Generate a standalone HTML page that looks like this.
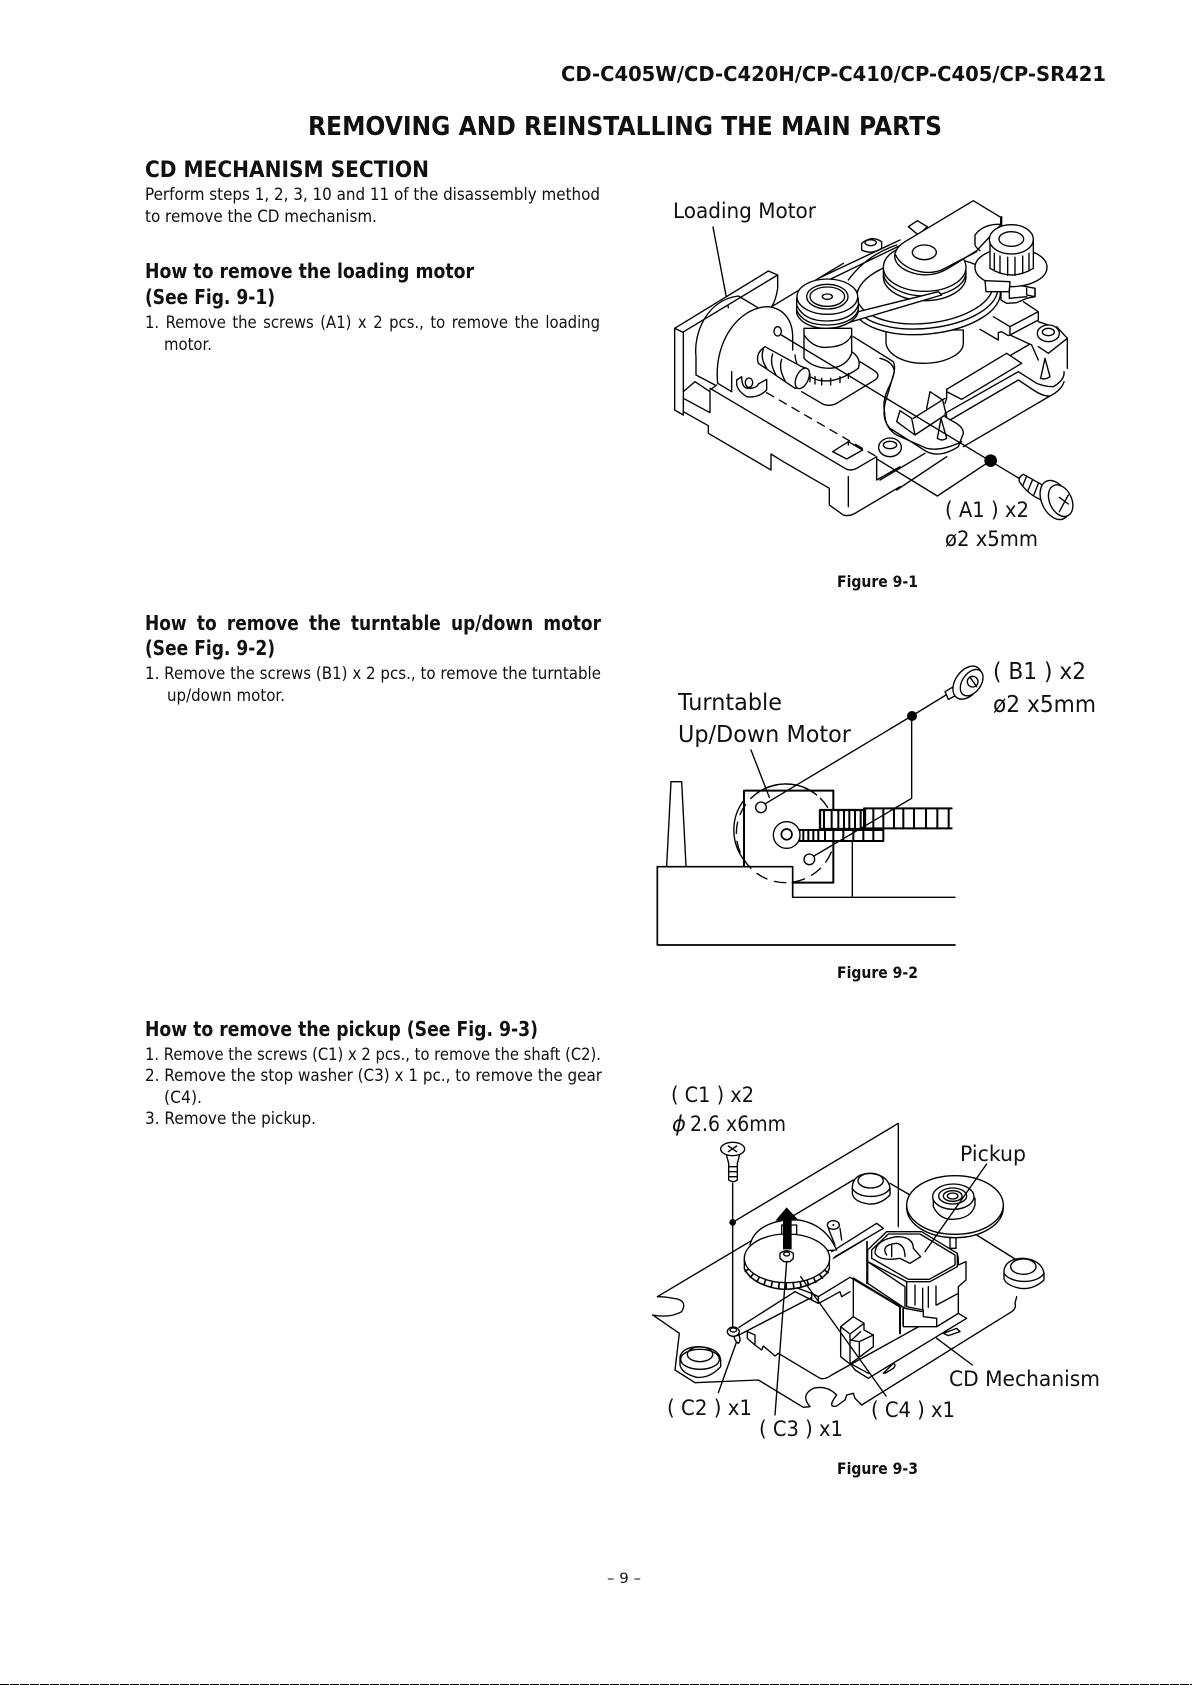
<!DOCTYPE html>
<html><head><meta charset="utf-8"><style>
html,body{margin:0;padding:0;background:#fff;width:1192px;height:1685px;overflow:hidden}
svg{display:block}
text{font-family:"DejaVu Sans",sans-serif;fill:#111}
.b{font-weight:bold}
.l{fill:none;stroke:#000;stroke-width:4.1;stroke-linejoin:round;stroke-linecap:round}
.w{fill:#fff;stroke:#000;stroke-width:4.1;stroke-linejoin:round}
.n{fill:#fff;stroke:none}
</style></head><body>
<svg xmlns="http://www.w3.org/2000/svg" width="1192" height="1685" viewBox="0 0 1192 1685">
<rect width="1192" height="1685" fill="#fff"/>
<g>
<text class="b" x="561" y="81" font-size="20" textLength="545" lengthAdjust="spacingAndGlyphs">CD-C405W/CD-C420H/CP-C410/CP-C405/CP-SR421</text>
<text class="b" x="308" y="135" font-size="26" textLength="634" lengthAdjust="spacingAndGlyphs">REMOVING AND REINSTALLING THE MAIN PARTS</text>
<text class="b" x="145" y="177" font-size="22" textLength="284" lengthAdjust="spacingAndGlyphs">CD MECHANISM SECTION</text>
<text x="145" y="200" font-size="16.5" textLength="455" lengthAdjust="spacingAndGlyphs">Perform steps 1, 2, 3, 10 and 11 of the disassembly method</text>
<text x="145" y="222" font-size="16.5" textLength="232" lengthAdjust="spacingAndGlyphs">to remove the CD mechanism.</text>
<text class="b" x="145" y="278" font-size="20" textLength="329" lengthAdjust="spacingAndGlyphs">How to remove the loading motor</text>
<text class="b" x="145" y="304" font-size="20" textLength="130" lengthAdjust="spacingAndGlyphs">(See Fig. 9-1)</text>
<text x="145" y="328" font-size="16.5" textLength="455" word-spacing="2" lengthAdjust="spacingAndGlyphs">1. Remove the screws (A1) x 2 pcs., to remove the loading</text>
<text x="164" y="350" font-size="16.5" textLength="48" lengthAdjust="spacingAndGlyphs">motor.</text>
<text class="b" x="145" y="630" font-size="20" textLength="456" word-spacing="5" lengthAdjust="spacingAndGlyphs">How to remove the turntable up/down motor</text>
<text class="b" x="145" y="655" font-size="20" textLength="130" lengthAdjust="spacingAndGlyphs">(See Fig. 9-2)</text>
<text x="145" y="679" font-size="16.5" textLength="456" lengthAdjust="spacingAndGlyphs">1. Remove the screws (B1) x 2 pcs., to remove the turntable</text>
<text x="167" y="701" font-size="16.5" textLength="118" lengthAdjust="spacingAndGlyphs">up/down motor.</text>
<text class="b" x="145" y="1036" font-size="20" textLength="393" lengthAdjust="spacingAndGlyphs">How to remove the pickup (See Fig. 9-3)</text>
<text x="145" y="1060" font-size="16.5" textLength="456" lengthAdjust="spacingAndGlyphs">1. Remove the screws (C1) x 2 pcs., to remove the shaft (C2).</text>
<text x="145" y="1081" font-size="16.5" textLength="457" lengthAdjust="spacingAndGlyphs">2. Remove the stop washer (C3) x 1 pc., to remove the gear</text>
<text x="164" y="1103" font-size="16.5" textLength="38" lengthAdjust="spacingAndGlyphs">(C4).</text>
<text x="145" y="1124" font-size="16.5" textLength="171" lengthAdjust="spacingAndGlyphs">3. Remove the pickup.</text>
<text x="607" y="1583" font-size="14" textLength="34" lengthAdjust="spacingAndGlyphs">– 9 –</text>

<text x="673" y="218" font-size="21" textLength="143" lengthAdjust="spacingAndGlyphs">Loading Motor</text>
<text x="945" y="517" font-size="21" textLength="84" lengthAdjust="spacingAndGlyphs">( A1 ) x2</text>
<text x="945" y="546" font-size="21" textLength="93" lengthAdjust="spacingAndGlyphs">ø2 x5mm</text>
<text class="b" x="837" y="587" font-size="16" textLength="81" lengthAdjust="spacingAndGlyphs">Figure 9-1</text>

<text x="678" y="710" font-size="23" textLength="104" lengthAdjust="spacingAndGlyphs">Turntable</text>
<text x="678" y="742" font-size="23" textLength="173" lengthAdjust="spacingAndGlyphs">Up/Down Motor</text>
<text x="993" y="679" font-size="23" textLength="93" lengthAdjust="spacingAndGlyphs">( B1 ) x2</text>
<text x="993" y="712" font-size="23" textLength="103" lengthAdjust="spacingAndGlyphs">ø2 x5mm</text>
<text class="b" x="837" y="978" font-size="16" textLength="81" lengthAdjust="spacingAndGlyphs">Figure 9-2</text>

<text x="671" y="1102" font-size="21" textLength="83" lengthAdjust="spacingAndGlyphs">( C1 ) x2</text>
<text x="672" y="1131" font-size="21" font-style="italic">ϕ</text>
<text x="690" y="1131" font-size="21" textLength="96" lengthAdjust="spacingAndGlyphs">2.6 x6mm</text>
<text x="960" y="1161" font-size="21" textLength="66" lengthAdjust="spacingAndGlyphs">Pickup</text>
<text x="949" y="1386" font-size="21" textLength="151" lengthAdjust="spacingAndGlyphs">CD Mechanism</text>
<text x="667" y="1415" font-size="21" textLength="85" lengthAdjust="spacingAndGlyphs">( C2 ) x1</text>
<text x="759" y="1436" font-size="21" textLength="84" lengthAdjust="spacingAndGlyphs">( C3 ) x1</text>
<text x="871" y="1417" font-size="21" textLength="84" lengthAdjust="spacingAndGlyphs">( C4 ) x1</text>
<text class="b" x="837" y="1474" font-size="16" textLength="81" lengthAdjust="spacingAndGlyphs">Figure 9-3</text>
</g>

<!-- FIGURE 1: left half -->
<g transform="translate(670,260) scale(0.33333)">
<path class="l" d="M129,-99 L175,143"/>
<path class="w" d="M14,205 L295,33 L323,45 L38,217 Z"/>
<path class="w" d="M14,205 V450 L40,465 V217 Z"/>
<path class="l" d="M323,45 V85 Q318,120 305,140 M305,140 L520,10"/>
<path class="l" d="M40,395 L75,365 L120,395 V458 L40,415 M120,390 L140,375 M120,385 L525,625 Q540,635 560,625 L620,590 V660 L690,620 M40,455 L115,497 V520 L303,630 V582 L340,605 L478,685 V735 L520,765 Q535,770 555,760 L690,680 M535,650 V740 M488,575 L535,545 L578,570 L530,597 Z M535,545 V555"/>
<path class="l" d="M290,398 L620,590" stroke-dasharray="24 20"/>
<path class="l" d="M78,345 V290 C70,220 110,120 205,108 L262,142 M78,345 L135,375"/>
<path class="n" d="M185,395 L143,370 C130,240 210,140 295,140 C340,145 368,180 368,230 V300 L300,380 Z"/>
<path class="l" d="M185,395 L143,370 C130,240 210,140 295,140 C340,145 368,180 368,230 V270 M185,335 V395"/>
<path class="w" d="M200,360 V375 Q205,395 230,410 Q265,415 290,390 V358 L265,372 Q260,385 235,385 Q215,385 215,350 Z"/>
<ellipse class="w" cx="237" cy="368" rx="11" ry="14"/>
<ellipse class="w" cx="323" cy="214" rx="11" ry="14"/>
</g>

<!-- FIGURE 1: right chassis -->
<g transform="translate(880,190) scale(0.33333)">
<path class="l" d="M340,380 L390,410 L475,365 L430,335 M390,410 V435 L475,390 V365 M300,418 L355,450 V428 L365,425 L385,437 L390,435 L455,465 L475,510 M475,395 L505,405 M530,410 L562,445 V535 M562,445 L505,490 L475,470 M450,462 L385,500"/>
<ellipse class="w" cx="505" cy="430" rx="33" ry="25"/><ellipse class="l" cx="505" cy="426" rx="18" ry="11"/>
<path class="w" d="M482,565 L495,505 L510,560 Q495,570 482,565 Z"/>
<path class="l" d="M552,545 Q555,570 520,590 Q495,590 470,580 L415,545 L195,670 M552,575 Q545,600 510,618 Q490,620 460,600 L415,570 L210,690 M510,618 L250,770"/>
<path class="w" d="M200,598 L380,490 L425,520 L245,628 L200,605 Z"/>
<path class="l" d="M200,598 V625 L195,640 M150,605 L140,655 M150,605 L188,630 L200,680 M100,685 L195,625 M60,662 L50,695 L105,735 L95,685 Z M105,735 L200,672 M0,505 Q40,515 43,545 Q30,590 15,640 Q5,690 30,715 L140,785 Q180,805 235,770 L250,730 Q250,710 220,695 L195,680 M15,680 Q18,715 50,735 L140,775 Q185,785 245,755"/>
<path class="w" d="M172,745 L183,685 L200,745 Q186,755 172,745 Z"/>
<path class="l" d="M135,790 L0,870 M200,800 L50,900"/>
</g>

<!-- FIGURE 1: center -->
<g transform="translate(640,180) scale(0.33333)">
<path class="l" d="M640,470 L760,545 Q772,570 745,625 Q725,665 735,705"/>
<ellipse class="w" cx="750" cy="802" rx="34" ry="28"/><ellipse class="l" cx="750" cy="795" rx="20" ry="11"/>
<path class="w" d="M665,190 Q695,165 725,185 V205 Q695,225 665,210 Z"/><ellipse class="l" cx="692" cy="188" rx="17" ry="9"/>
<path class="w" d="M805,140 L832,122 L862,140 L835,165 Z"/>
<path class="l" d="M535,295 L780,180 M570,298 L790,192 M625,300 Q680,225 770,195"/>
<path class="w" d="M738,450 V490 C745,530 800,550 850,550 C920,550 970,520 970,490 V450 Z"/>
<ellipse class="w" cx="860" cy="358" rx="222" ry="104" transform="rotate(-6 860 358)"/>
<ellipse class="w" cx="858" cy="345" rx="216" ry="100" transform="rotate(-6 858 345)"/>
<ellipse class="w" cx="855" cy="332" rx="205" ry="98" transform="rotate(-6 855 332)"/>
<ellipse class="w" cx="854" cy="290" rx="124" ry="72"/>
<ellipse class="w" cx="854" cy="276" rx="124" ry="72"/>
<ellipse class="w" cx="854" cy="262" rx="124" ry="72"/>
<path class="l" d="M1005,180 C1005,140 1040,115 1082,112"/>
<path class="w" d="M1082,112 L1000,62 L795,185 C745,215 755,265 830,282 C870,290 900,280 925,265 L1010,212 L1082,135 Z"/>
<path class="l" d="M767,225 C785,265 850,290 905,270 L1010,215"/>
<ellipse class="l" cx="853" cy="217" rx="36" ry="22"/>
<path class="w" d="M615,405 L895,335 L905,345 L625,428 Z"/>
</g>

<!-- FIGURE 1: right gear -->
<g transform="translate(880,190) scale(0.33333)">
<path class="l" d="M365,80 V105 M365,103 Q310,100 285,135 V165 Q290,175 300,182"/>
<path class="w" d="M363,305 V330 L380,340 L410,338 L440,325 L465,320 V295 L388,280 Z"/>
<ellipse class="w" cx="393" cy="232" rx="108" ry="58"/>
<path class="w" d="M330,150 V235 Q395,275 460,235 V150 Z"/>
<ellipse class="w" cx="394" cy="148" rx="66" ry="44"/><ellipse class="l" cx="394" cy="147" rx="37" ry="22"/>
<path class="l" d="M343,190 V243 M360,198 V250 M383,202 V256 M405,202 V256 M428,198 V250 M447,190 V243"/>
<path class="w" d="M315,272 L390,275 L388,305 L318,305 Z"/>
<path class="l" d="M388,295 V325 L440,320 M440,295 V315 L465,320 V295"/>
</g>

<!-- FIGURE 1: pulley + worm -->
<g transform="translate(670,260) scale(0.33333)">
<path class="n" d="M375,290 Q378,330 420,350 Q480,385 565,325 Q575,295 545,275 L402,265 Z"/>
<path class="l" d="M375,285 Q378,330 420,350 Q480,385 565,325 Q575,295 545,275"/>
<path class="l" d="M420,342 V365 M435,350 V372 M455,355 V375 M482,355 V375 M510,350 V368 M535,340 V355"/>
<path class="l" d="M395,395 L460,433 Q480,440 500,430 L615,360 Q635,345 610,330 L570,305"/>
<path class="w" d="M402,205 V295 Q430,325 480,325 Q530,320 545,280 V205 Z"/>
<path class="l" d="M402,225 Q430,265 470,262 Q530,260 545,225"/>
<path class="w" d="M285,260 Q255,280 265,310 L375,385 Q410,380 418,345 Q420,325 395,320 Z"/>
<path class="l" d="M280,268 Q270,295 290,325 M308,282 Q298,310 318,345 M335,298 Q325,325 345,362"/>
<ellipse class="w" cx="397" cy="355" rx="18" ry="33" transform="rotate(25 397 355)"/>
<path class="w" d="M380,115 V160 C390,190 430,205 470,205 C520,205 560,180 565,155 V115 Z"/>
<path class="l" d="M380,135 C395,170 430,183 470,183 C520,183 555,165 565,135 M380,150 C395,185 430,195 470,195 C520,195 555,178 565,150"/>
<ellipse class="w" cx="472" cy="110" rx="91" ry="53"/>
<ellipse class="l" cx="472" cy="110" rx="62" ry="37"/><ellipse class="l" cx="472" cy="110" rx="52" ry="29"/><ellipse class="l" cx="472" cy="110" rx="15" ry="8"/>
</g>

<!-- FIGURE 1: leaders + screw -->
<g transform="translate(640,180) scale(0.33333)">
<path class="l" d="M424,465 L1142,898 M1052,842 L892,948 L712,838"/>
<circle cx="1052" cy="842" r="19" fill="#000"/>
<path class="w" d="M1138,905 Q1135,890 1150,883 L1225,925 L1205,960 Q1165,945 1138,905 Z"/>
<path class="l" d="M1160,888 L1148,918 M1178,898 L1164,932 M1196,908 L1182,944"/>
<ellipse class="w" cx="1245" cy="960" rx="40" ry="62" transform="rotate(-25 1245 960)"/>
<ellipse class="w" cx="1262" cy="962" rx="33" ry="50" transform="rotate(-25 1262 962)"/>
<path class="l" d="M1258,952 L1285,972 M1285,945 L1258,995"/>
</g>

<!-- FIGURE 2 -->
<g transform="translate(640,640) scale(0.33333)">
<path class="l" d="M80,678 L93,425 H125 L138,678"/>
<path class="l" d="M333,330 L388,472"/>
<path class="l" d="M458,772 H945 M637,603 V768"/>
<path class="l" style="stroke-width:5" d="M52,915 H945 M52,915 V680 H458 V772"/>
<path class="l" style="stroke-width:6" d="M312,680 V452 H580 V728 H458"/>
<circle class="l" cx="437" cy="580" r="148" stroke-dasharray="34 24"/>
<path class="l" d="M312,480 A148,148 0 0 0 312,660 M350,460 A148,148 0 0 1 530,465"/>
<rect class="w" x="478" y="570" width="252" height="33" style="stroke-width:6"/>
<path class="l" style="stroke-width:6" d="M490,570 V603 M505,570 V603 M520,570 V603 M535,570 V603 M555,570 V603 M580,570 V603 M610,570 V603 M640,570 V603 M670,570 V603 M700,570 V603"/>
<rect class="w" x="540" y="510" width="135" height="57" style="stroke-width:7"/>
<path class="l" style="stroke-width:6" d="M552,510 V567 M575,510 V567 M595,510 V567 M612,510 V567 M628,510 V567 M645,510 V567 M662,510 V567"/>
<path class="l" style="stroke-width:6" d="M935,505 H672 V565 H935"/>
<path class="l" style="stroke-width:6" d="M700,505 V565 M730,505 V565 M762,505 V565 M790,505 V565 M822,505 V565 M858,505 V565 M892,505 V565 M926,505 V565"/>
<circle class="w" cx="440" cy="585" r="40"/><circle class="l" cx="440" cy="583" r="16" style="stroke-width:5"/>
<circle class="w" cx="363" cy="502" r="16"/><circle class="w" cx="508" cy="658" r="16"/>
<path class="l" d="M378,490 L815,228 L918,165 M815,228 V475 L522,648"/>
<circle cx="816" cy="228" r="15" fill="#000"/>
<path class="w" d="M915,155 L937,142 L950,165 L925,178 Z"/>
<ellipse class="w" cx="982" cy="128" rx="36" ry="55" transform="rotate(35 982 128)"/>
<ellipse class="w" cx="995" cy="128" rx="28" ry="44" transform="rotate(35 995 128)"/>
<circle class="l" cx="998" cy="125" r="16"/><path class="l" d="M990,112 L1010,140"/>
</g>

<!-- FIGURE 3 -->
<g transform="translate(640,1070) scale(0.33333)">
<path class="l" d="M640,330 L52,680 M750,340 L810,375 M1010,495 L1130,570 M1130,680 L1125,700 Q1130,715 1115,725 L665,1005 L645,985 L640,970 L620,975 L615,990 L590,1008 Q560,1015 590,975 Q560,945 520,955 Q480,975 510,1010 L490,1012 L355,930 L165,938 L105,900 L118,790 L38,735 Q90,745 125,725 Q145,690 100,685 Q75,680 52,680"/>
<path class="l" d="M278,457 L775,160 V470 M278,340 V770"/>
<circle cx="278" cy="457" r="10" fill="#000"/>
<path class="w" d="M258,250 L266,280 V330 Q280,340 292,330 V280 L300,250 Z"/>
<path class="l" d="M266,290 H292 M266,305 H292 M266,320 H292"/>
<ellipse class="w" cx="278" cy="237" rx="36" ry="20"/><path class="l" d="M265,228 L290,245 M290,228 L265,245"/>
<path class="w" d="M637,350 Q640,312 690,310 Q745,315 750,355 V375 Q720,405 685,402 Q640,395 637,370 Z"/><ellipse class="l" cx="692" cy="332" rx="38" ry="22"/><path class="l" d="M637,355 C650,385 730,390 750,355"/>
<path class="w" d="M1092,600 Q1100,565 1150,565 Q1205,570 1212,610 V630 Q1180,660 1140,655 Q1095,645 1092,625 Z"/><ellipse class="l" cx="1150" cy="590" rx="38" ry="23"/><path class="l" d="M1092,610 C1110,640 1190,645 1212,610"/>
<path class="w" d="M120,860 Q128,830 180,830 Q238,835 242,870 V890 Q210,925 170,922 Q125,910 120,885 Z"/><ellipse class="l" cx="180" cy="853" rx="38" ry="22"/><ellipse class="l" cx="180" cy="868" rx="58" ry="30"/>
</g>
<g transform="translate(740,1190) scale(0.33333)">
<path class="l" d="M275,185 L410,100 L430,115 L285,200 M280,205 L375,148 M-3,412 L165,305 M-3,435 L215,322 M235,320 L330,262 L482,352 M240,338 L300,305 L305,320 L330,305 M22,425 L45,435 V465 L22,445 Z M45,465 L65,480 L70,468 L90,485 L105,498 L115,490 L240,565 Q255,570 275,555 L545,405 M655,370 L680,385 L385,565 L345,540 L330,520 M610,430 L650,415 L660,425 L625,437 Z M430,550 L460,520 Q470,525 460,535 L435,550"/>
<path class="l" d="M165,305 L215,330 V310 L160,290 M215,310 L235,320 V340 L215,330"/>
<path class="l" style="stroke-width:6" d="M340,265 L480,350 V430 M490,355 V405 H590"/>
<path class="l" d="M340,265 V405"/>
<path class="w" d="M302,410 L340,380 L372,400 V420 L400,435 V470 L360,500 L330,522 L302,500 Z"/>
<path class="l" d="M302,410 L330,432 V522 M330,432 L372,400 M335,450 L362,425 M358,455 V500 M330,450 L358,455 L400,435"/>
<path class="l" d="M330,520 L385,550"/>
<!-- back gear -->
<path class="w" d="M30,165 Q45,100 150,88 Q250,90 290,180 L100,190 Z"/>
<path class="l" d="M265,115 L285,165 M300,115 L305,150"/>
<ellipse class="w" cx="280" cy="105" rx="18" ry="13"/><circle cx="280" cy="105" r="3" fill="#000"/>
<rect class="w" x="125" y="105" width="45" height="35"/>
<!-- gear -->
<path class="w" d="M13,205 V235 C30,275 90,298 140,298 C200,295 260,265 268,235 V205 Z"/>
<path fill="none" stroke="#000" stroke-width="18" stroke-dasharray="5 17" d="M20,238 C40,272 90,289 140,289 C195,287 245,270 262,238"/>
<path class="l" d="M13,235 C30,275 90,298 140,298 C200,295 260,265 268,235"/>
<ellipse class="w" cx="141" cy="205" rx="128" ry="73"/>
<path d="M140,52 L177,92 H155 V178 H129 V92 H106 Z" fill="#000"/>
<path class="w" d="M120,190 Q140,175 160,190 V205 L150,215 H132 L120,205 Z"/><ellipse class="l" cx="140" cy="192" rx="9" ry="6"/>
<!-- pickup block -->
<path class="w" d="M383,180 V280 L495,355 L548,365 L590,350 L655,310 V370 L590,410 H490 V352 L383,280 Z"/>
<path class="l" style="stroke-width:5" d="M381,155 V280"/>
<path class="w" d="M655,205 V225 L678,215 V270 L655,290 V370 L590,410 V385 L550,380 V360 L500,350 V275 L652,190 Z"/>
<path class="l" d="M383,215 L495,290 V350 M525,285 V345 M548,295 V360 M565,290 V352 M588,288 V345 M590,345 L655,310"/>
<path class="w" d="M383,180 L440,125 H545 L652,190 V230 L570,275 H500 L383,215 Z"/>
<path class="l" d="M395,180 L445,132 H540 L645,195 V225 L568,268 H505 L395,205 Z"/>
<path class="l" d="M405,190 Q405,150 470,140 Q520,140 520,175 L542,200 L510,220 L480,205 Q420,215 405,190 Z M440,195 Q420,165 470,160 Q495,165 495,200 M455,200 V165"/>
</g>
<g transform="translate(640,1070) scale(0.33333)">
<path class="w" d="M930,490 H948 V535 H930 Z"/>
<ellipse class="w" cx="945" cy="413" rx="145" ry="90"/>
<ellipse class="w" cx="945" cy="405" rx="145" ry="88"/>
<path class="w" d="M880,385 V410 Q900,450 940,448 Q995,445 1005,405 V385 Z"/>
<ellipse class="w" cx="940" cy="380" rx="62" ry="38"/>
<ellipse class="l" cx="938" cy="378" rx="42" ry="24"/><ellipse class="l" cx="938" cy="378" rx="28" ry="16"/><ellipse class="l" cx="938" cy="378" rx="16" ry="9"/>
<path class="l" d="M1040,282 L855,545 M890,805 L997,885 M482,620 L738,978 M440,575 L405,1035 M290,815 L235,968"/>
<ellipse class="w" cx="280" cy="785" rx="18" ry="14"/><ellipse class="l" cx="280" cy="780" rx="10" ry="6"/>
<path class="w" d="M282,800 L296,795 Q305,810 295,820 Q285,815 282,800 Z"/>
</g>
<line x1="0" y1="1684.5" x2="1192" y2="1684.5" stroke="#000" stroke-width="1" stroke-dasharray="9 1"/>
</svg>
</body></html>
